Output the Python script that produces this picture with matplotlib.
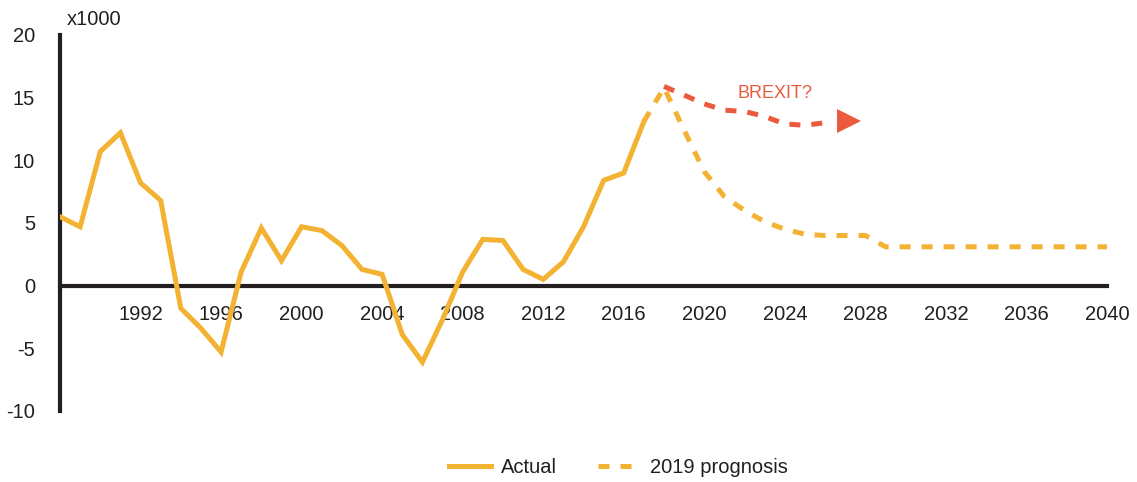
import matplotlib
matplotlib.use('Agg')
import matplotlib.pyplot as plt

plt.rcParams['font.family'] = ['Liberation Sans', 'DejaVu Sans']
plt.rcParams['axes.unicode_minus'] = False

# net migration, thousands
actual_years = list(range(1988, 2018))
actual_vals = [5.5, 4.7, 10.7, 12.2, 8.2, 6.8, -1.8, -3.4, -5.3, 1.1,
               4.6, 2.0, 4.7, 4.4, 3.2, 1.3, 0.9, -3.9, -6.1, -2.7,
               1.1, 3.7, 3.6, 1.3, 0.5, 1.9, 4.7, 8.4, 9.0, 13.1]

prog_years = list(range(2017, 2041))
prog_vals = [13.1, 15.8, 12.4, 9.1, 7.1, 6.0, 5.1, 4.5, 4.1, 4.0, 4.0, 4.0,
             3.1, 3.1, 3.1, 3.1, 3.1, 3.1, 3.1, 3.1, 3.1, 3.1, 3.1, 3.1]

brexit_years = list(range(2018, 2027))
brexit_vals = [15.9, 15.2, 14.5, 14.0, 13.9, 13.5, 12.9, 12.8, 13.0]
brexit_tip = (2027.2, 13.1)

xticks = list(range(1992, 2041, 4))
yticks = [-10, -5, 0, 5, 10, 15, 20]

orange = '#F3B232'
red = '#EC5A3E'
ink = '#231F20'

fig = plt.figure(figsize=(11.37, 4.82), dpi=100)
ax = fig.add_axes([60 / 1137, 71 / 482, 1047 / 1137, 376 / 482])

ax.plot(actual_years, actual_vals, color=orange, lw=3.6, solid_joinstyle='miter',
        label='Actual', zorder=3)
ax.plot(prog_years, prog_vals, color=orange, lw=3.6, linestyle=(0, (2.2, 2.2)),
        label='2019 prognosis', zorder=3)
ax.plot(brexit_years, brexit_vals, color=red, lw=3.6, linestyle=(0, (2.2, 2.2)), zorder=3)
ax.plot(*brexit_tip, marker='>', markersize=17, color=red, markeredgewidth=0, zorder=3)
ax.text(2023.5, 15.3, 'BREXIT?', color=red, fontsize=13, ha='center', va='center')

ax.set_xlim(1988, 2040)
ax.set_ylim(-10, 20)

for s in ['top', 'right']:
    ax.spines[s].set_visible(False)
ax.spines['bottom'].set_position(('data', 0))
ax.spines['bottom'].set_linewidth(3)
ax.spines['bottom'].set_color(ink)
ax.spines['left'].set_linewidth(3)
ax.spines['left'].set_color(ink)

ax.set_xticks(xticks)
ax.set_xticklabels([str(t) for t in xticks])
ax.set_yticks(yticks)
ax.tick_params(axis='both', length=0, labelsize=14.5, labelcolor=ink)
ax.tick_params(axis='x', pad=14)
ax.tick_params(axis='y', pad=18)

ax.annotate('x1000', xy=(0, 1), xycoords='axes fraction', xytext=(5, 4),
            textcoords='offset points', fontsize=14.5, color=ink, va='bottom')

leg = fig.legend(loc='center', bbox_to_anchor=(0.544, 0.03), ncol=2, frameon=False,
                 fontsize=14.5, handlelength=2.1, handletextpad=0.5, columnspacing=2.0)
for t in leg.get_texts():
    t.set_color(ink)

fig.savefig('out.png', dpi=100)
